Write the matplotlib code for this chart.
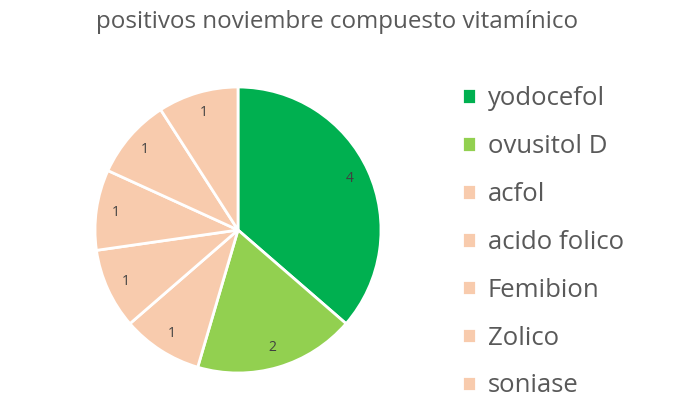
import matplotlib.pyplot as plt

# data
labels = ['yodocefol', 'ovusitol D', 'acfol', 'acido folico', 'Femibion', 'Zolico', 'soniase']
values = [4, 2, 1, 1, 1, 1, 1]
colors = ['#00B050', '#92D050', '#F8CBAD', '#F8CBAD', '#F8CBAD', '#F8CBAD', '#F8CBAD']

plt.rcParams['font.family'] = ['Open Sans', 'DejaVu Sans']

fig = plt.figure(figsize=(6.74, 4.15), dpi=100)
ax = fig.add_axes([(238 - 143) / 674, 1 - (230 + 143) / 415, 286 / 674, 286 / 415])

wedges, texts, autotexts = ax.pie(
    values, colors=colors, startangle=90, counterclock=False,
    autopct=lambda p: '%d' % round(p * sum(values) / 100),
    pctdistance=0.86,
    wedgeprops=dict(edgecolor='white', linewidth=2),
    textprops=dict(color='#404040', fontsize=10),
)
ax.set_xlim(-1, 1)
ax.set_ylim(-1, 1)
ax.set_aspect('equal')

fig.text(337 / 674, 1 - 22 / 415, 'positivos noviembre compuesto vitamínico',
         ha='center', va='center', fontsize=17.4, color='#595959')

leg = fig.legend(wedges, labels, loc='upper left', bbox_to_anchor=(452 / 674, 1 - 76 / 415),
                 frameon=False, fontsize=18.5, labelspacing=0.89, handlelength=0.55,
                 handleheight=0.55, handletextpad=0.45, borderaxespad=0)
for t in leg.get_texts():
    t.set_color('#595959')

fig.savefig('out.png', dpi=100)
